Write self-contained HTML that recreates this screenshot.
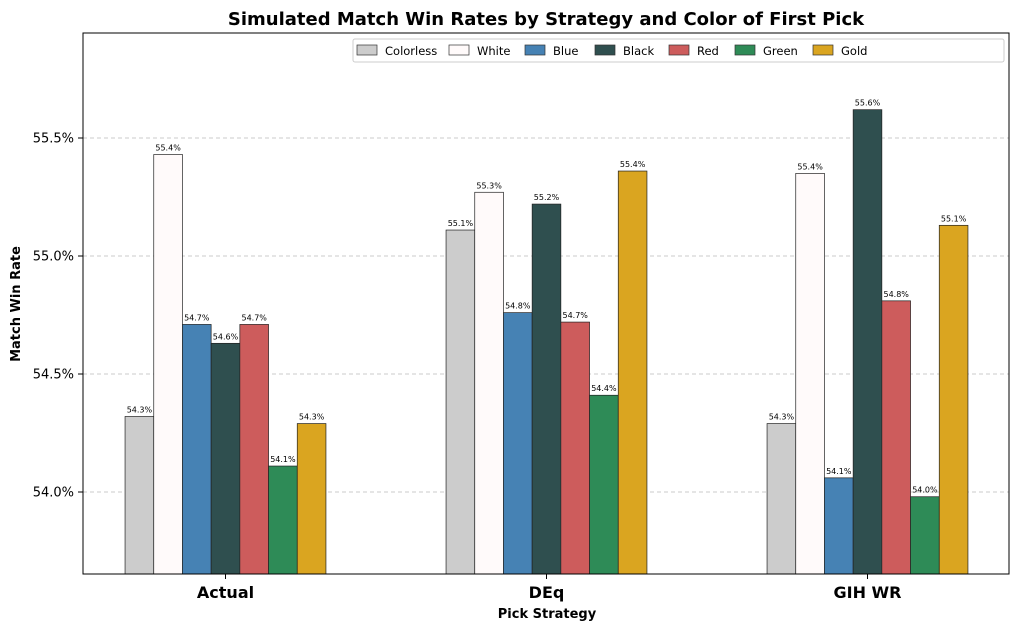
<!DOCTYPE html>
<html><head><meta charset="utf-8"><style>
body{margin:0;background:#fff;font-family:"DejaVu Sans","Liberation Sans",sans-serif}
</style></head><body>
<svg id="c" width="1020" height="631" xmlns="http://www.w3.org/2000/svg" font-family="DejaVu Sans, Liberation Sans, sans-serif">
<text x="546" y="25" text-anchor="middle" font-size="18" font-weight="bold">Simulated Match Win Rates by Strategy and Color of First Pick</text>
<g id="grid"></g>
<g id="bars"></g>
<g id="yt"></g>
<g id="xt"></g>
<rect x="83" y="33" width="926" height="541" fill="none" stroke="#000" stroke-width="1"/>
<text x="547" y="618" text-anchor="middle" font-size="13" font-weight="bold">Pick Strategy</text>
<text transform="translate(20,304) rotate(-90)" text-anchor="middle" font-size="13" font-weight="bold">Match Win Rate</text>
<g id="legend"><rect x="353" y="39" width="651" height="23" fill="#fff" stroke="#ccc" rx="2"/></g>
</svg>
<script>
const categories=["Actual","DEq","GIH WR"];
const seriesNames=["Colorless","White","Blue","Black","Red","Green","Gold"];
const colors=["#cccccc","#fffafa","#4682b4","#2f4f4f","#cd5c5c","#2e8b57","#daa520"];
const colorless=[54.32,55.11,54.29];
const white=[55.43,55.27,55.35];
const blue=[54.71,54.76,54.06];
const black=[54.63,55.22,55.62];
const red=[54.71,54.72,54.81];
const green=[54.11,54.41,53.98];
const gold=[54.29,55.36,55.13];
const yTicks=[54.0,54.5,55.0,55.5];
const series=[colorless,white,blue,black,red,green,gold];
const NS="http://www.w3.org/2000/svg";
const y=v=>492-(v-54.0)*236;
const groupCenter=i=>225.5+i*321;
const bw=28.7;
function mk(tag,attrs,parent){const e=document.createElementNS(NS,tag);for(const k in attrs)e.setAttribute(k,attrs[k]);parent.appendChild(e);return e;}
const grid=document.getElementById('grid'),yt=document.getElementById('yt'),xt=document.getElementById('xt'),bars=document.getElementById('bars'),lg=document.getElementById('legend');
yTicks.forEach(t=>{
 const l=mk('line',{x1:83,x2:1009,y1:y(t),y2:y(t),stroke:'#bbb','stroke-dasharray':'4,3','stroke-width':0.8},grid);
 
 
 mk('line',{x1:78,x2:83,y1:y(t),y2:y(t),stroke:'#000'},yt);
 const tx=mk('text',{x:74,y:y(t)+4.5,'text-anchor':'end','font-size':13},yt);
 tx.textContent=t.toFixed(1)+'%';
 
 
});
categories.forEach((c,i)=>{
 const cx=groupCenter(i);
 mk('line',{x1:cx,x2:cx,y1:574,y2:579,stroke:'#000'},xt);
 const tx=mk('text',{x:cx,y:598,'text-anchor':'middle','font-size':16,'font-weight':'bold'},xt);
 tx.textContent=c;
 
 
 series.forEach((s,j)=>{
  const x0=cx+(j-3.5)*bw, v=s[i], top=y(v);
  const r=mk('rect',{x:x0,y:top,width:bw,height:574-top,fill:colors[j],stroke:'#222','stroke-width':0.7},bars);
  
  
  const lb=mk('text',{x:x0+bw/2,y:top-4,'text-anchor':'middle','font-size':8},bars);
  lb.textContent=v.toFixed(1)+'%';
  
  
 });
});
const lx=[357,449,525,595,669,735,813];
seriesNames.forEach((n,j)=>{
 const p=mk('rect',{x:lx[j],y:45,width:20,height:10,fill:colors[j],stroke:'#333','stroke-width':0.7},lg);
 
 
 const t=mk('text',{x:lx[j]+28,y:55,'font-size':11.5},lg);
 t.textContent=n;
 
 
});
</script>
</body></html>
